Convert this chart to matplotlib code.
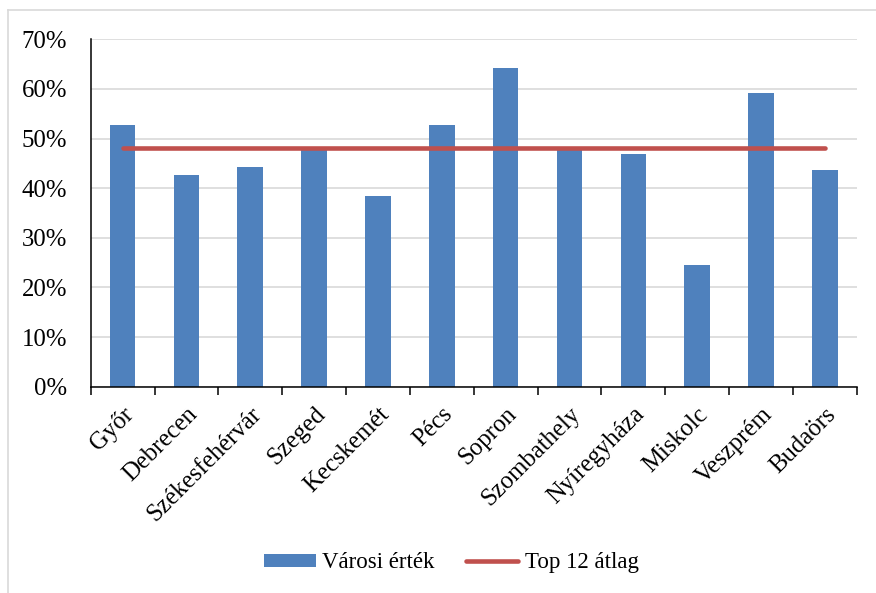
import numpy as np
import matplotlib.pyplot as plt
from matplotlib.ticker import PercentFormatter
from matplotlib.lines import Line2D

plt.rcParams['font.family'] = ['Liberation Serif', 'DejaVu Serif']

# data
cities = ['Győr', 'Debrecen', 'Székesfehérvár', 'Szeged', 'Kecskemét', 'Pécs',
          'Sopron', 'Szombathely', 'Nyíregyháza', 'Miskolc', 'Veszprém', 'Budaörs']
city_values = [52.7, 42.6, 44.2, 47.8, 38.5, 52.7, 64.2, 47.8, 46.8, 24.6, 59.1, 43.6]
top12_avg = [48.1] * len(cities)

bar_color = '#4F81BD'
line_color = '#C0504D'
fs = 17.8

fig = plt.figure(figsize=(8.76, 5.93), dpi=100)
ax = fig.add_axes([0.1035, 0.3479, 0.8745, 0.5858])

x = np.arange(len(cities))
bars = ax.bar(x, city_values, width=0.4, color=bar_color, zorder=2, label='Városi érték')
line, = ax.plot(x, top12_avg, color=line_color, lw=3.3, solid_capstyle='round', zorder=3,
                label='Top 12 átlag')

ax.set_xlim(-0.5, len(cities) - 0.5)
ax.set_ylim(0, 70)
ax.set_yticks(np.arange(0, 71, 10))
ax.yaxis.set_major_formatter(PercentFormatter(decimals=0))
ax.yaxis.grid(True, color='#D9D9D9', lw=1.2, zorder=0)
ax.set_axisbelow(True)

ax.spines['top'].set_visible(False)
ax.spines['right'].set_visible(False)
ax.spines['left'].set_linewidth(1.1)
ax.spines['bottom'].set_linewidth(1.1)

ax.tick_params(axis='y', length=0, pad=17, labelsize=fs)
ax.set_xticks(np.arange(-0.5, len(cities), 1.0))
ax.set_xticklabels([])
ax.tick_params(axis='x', direction='out', length=6, width=1.1)
ax.set_xticks(x, minor=True)
ax.set_xticklabels(cities, minor=True, rotation=45, ha='right', va='top',
                   rotation_mode='anchor', fontsize=fs)
ax.tick_params(axis='x', which='minor', length=0, pad=12)

ax.legend([bars, line], ['Városi érték', 'Top 12 átlag'],
          loc='center', bbox_to_anchor=(0.515, 0.0506), bbox_transform=fig.transFigure,
          ncol=2, frameon=False, fontsize=16.5, handlelength=2.27, handleheight=0.5,
          handletextpad=0.3, columnspacing=1.35)

# outer chart border (left and top edges visible)
fig.add_artist(Line2D([8 / 876, 8 / 876], [0, 1 - 10 / 593], color='#D9D9D9', lw=1.2,
                      transform=fig.transFigure))
fig.add_artist(Line2D([8 / 876, 1], [1 - 10 / 593, 1 - 10 / 593], color='#D9D9D9', lw=1.2,
                      transform=fig.transFigure))

fig.savefig('out.png', dpi=100)
